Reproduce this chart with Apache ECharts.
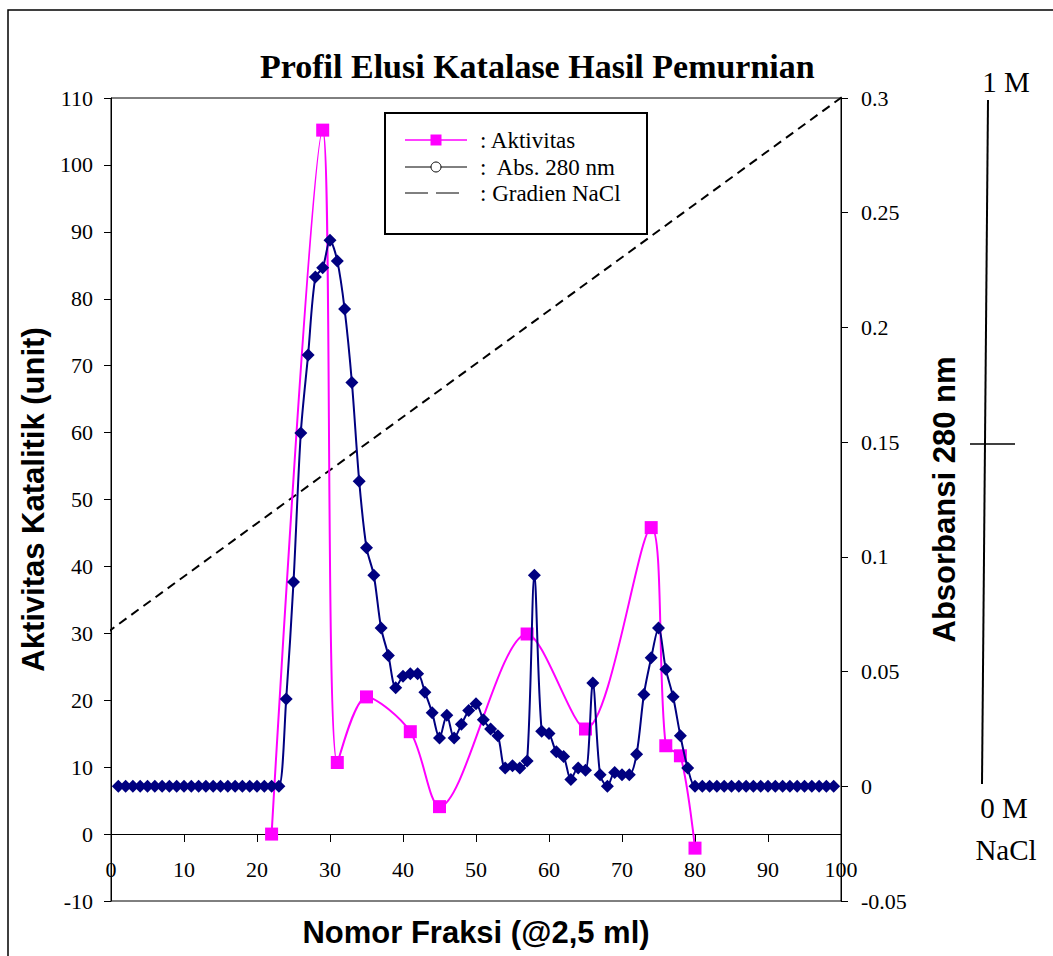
<!DOCTYPE html>
<html>
<head>
<meta charset="utf-8">
<script src="https://cdn.jsdelivr.net/npm/echarts@6/dist/echarts.min.js"></script>
<style>
html,body{margin:0;padding:0;background:#fff;}
#c{width:1053px;height:956px;}
</style>
</head>
<body>
<div id="c"></div>
<script>
// ---- data ----
const chartTitle = 'Profil Elusi Katalase Hasil Pemurnian';
const xTitle = 'Nomor Fraksi (@2,5 ml)';
const yLeftTitle = 'Aktivitas Katalitik (unit)';
const yRightTitle = 'Absorbansi 280 nm';

// Aktivitas (left axis, unit)
const aktFraksi = [22, 29, 31, 35, 41, 45, 57, 65, 74, 76, 78, 80];
const aktivitas = [0, 105.2, 10.7, 20.5, 15.3, 4.1, 29.9, 15.7, 45.8, 13.2, 11.7, -2.1];

// Abs. 280 nm (right axis)
const absFraksi = [
  1, 2, 3, 4, 5, 6, 7, 8, 9, 10, 11, 12, 13, 14, 15, 16, 17, 18, 19, 20,
  21, 22, 23, 24, 25, 26, 27, 28, 29, 30, 31, 32, 33, 34, 35, 36, 37, 38, 39, 40,
  41, 42, 43, 44, 45, 46, 47, 48, 49, 50, 51, 52, 53, 54, 55, 56, 57, 58, 59, 60,
  61, 62, 63, 64, 65, 66, 67, 68, 69, 70, 71, 72, 73, 74, 75, 76, 77, 78, 79, 80,
  81, 82, 83, 84, 85, 86, 87, 88, 89, 90, 91, 92, 93, 94, 95, 96, 97, 98, 99
];
const abs280 = [
  0, 0, 0, 0, 0, 0, 0, 0, 0, 0, 0, 0, 0, 0, 0, 0, 0, 0, 0, 0,
  0, 0, 0, 0.038, 0.089, 0.154, 0.188, 0.222, 0.226, 0.238, 0.229, 0.208, 0.176, 0.133, 0.104, 0.092, 0.069, 0.057, 0.043, 0.048,
  0.049, 0.049, 0.041, 0.032, 0.021, 0.031, 0.021, 0.027, 0.033, 0.036, 0.029, 0.025, 0.022, 0.008, 0.009, 0.008, 0.011, 0.092, 0.024, 0.023,
  0.015, 0.013, 0.003, 0.008, 0.007, 0.045, 0.005, 0.000, 0.006, 0.005, 0.005, 0.014, 0.040, 0.056, 0.069, 0.051, 0.039, 0.022, 0.008, 0,
  0, 0, 0, 0, 0, 0, 0, 0, 0, 0, 0, 0, 0, 0, 0, 0, 0, 0, 0
];

// Gradien NaCl (dashed straight line, left-axis units)
const gradFraksi = [-2.2, 102.6];
const gradNaCl = [28.8, 112.1];

// legend labels
const legendLabels = [': Aktivitas', ':  Abs. 280 nm', ': Gradien NaCl'];
// NaCl scale labels
const naclLabels = ['1 M', '0 M', 'NaCl'];

// axis ranges
const xMin = 0, xMax = 100, xStep = 10;
const yLMin = -10, yLMax = 110, yLStep = 10;
const yRMin = -0.05, yRMax = 0.3, yRStep = 0.05;

const zip = (xs, ys) => xs.map((x, i) => [x, ys[i]]);

const serif = 'Liberation Serif, Times New Roman, serif';
const sans = 'Liberation Sans, Arial, sans-serif';

const chart = echarts.init(document.getElementById('c'), null, {renderer: 'svg'});

const option = {
  animation: false,
  backgroundColor: '#fff',
  title: {
    text: chartTitle,
    left: 255, top: 44,
    textStyle: {fontFamily: serif, fontWeight: 'bold', fontSize: 34, color: '#000'}
  },
  grid: {
    left: 111, right: 212, top: 98, bottom: 55,
    show: true, borderColor: '#000', borderWidth: 1, backgroundColor: 'transparent',
    containLabel: false, outerBoundsMode: 'none'
  },
  xAxis: {
    type: 'value', min: xMin, max: xMax, interval: xStep,
    position: 'bottom', offset: -67,
    axisLine: {show: true, onZero: false, lineStyle: {color: '#000', width: 1}},
    axisTick: {show: true, length: 8, inside: false, lineStyle: {color: '#000', width: 1}},
    axisLabel: {color: '#000', fontFamily: serif, fontSize: 22, margin: 24},
    splitLine: {show: false},
    name: xTitle, nameLocation: 'middle', nameGap: 83,
    nameTextStyle: {fontFamily: sans, fontWeight: 'bold', fontSize: 31, color: '#000'}
  },
  yAxis: [
    {
      type: 'value', position: 'left', min: yLMin, max: yLMax, interval: yLStep,
      axisLine: {show: true, onZero: false, lineStyle: {color: '#000', width: 1}},
      axisTick: {show: true, length: 7, inside: false, lineStyle: {color: '#000', width: 1}},
      axisLabel: {color: '#000', fontFamily: serif, fontSize: 22, margin: 18},
      splitLine: {show: false},
      name: yLeftTitle, nameLocation: 'middle', nameRotate: 90, nameGap: 58,
      nameTextStyle: {fontFamily: sans, fontWeight: 'bold', fontSize: 31, color: '#000'}
    },
    {
      type: 'value', position: 'right', min: yRMin, max: yRMax, interval: yRStep,
      alignTicks: false,
      axisLine: {show: true, onZero: false, lineStyle: {color: '#000', width: 1}},
      axisTick: {show: true, length: 7, inside: false, lineStyle: {color: '#000', width: 1}},
      axisLabel: {color: '#000', fontFamily: serif, fontSize: 22, margin: 20},
      splitLine: {show: false},
      name: yRightTitle, nameLocation: 'middle', nameRotate: 90, nameGap: 88,
      nameTextStyle: {fontFamily: sans, fontWeight: 'bold', fontSize: 31, color: '#000'}
    }
  ],
  series: [
    {
      name: 'Gradien NaCl', type: 'line', yAxisIndex: 0,
      data: zip(gradFraksi, gradNaCl),
      symbol: 'none', clip: false, silent: true, z: 1,
      lineStyle: {color: '#000', width: 2, type: [9, 6]}
    },
    {
      name: 'Aktivitas', type: 'line', yAxisIndex: 0,
      data: zip(aktFraksi, aktivitas),
      smooth: 0.3, symbol: 'rect', symbolSize: 13, z: 2,
      itemStyle: {color: '#FF00FF'},
      lineStyle: {color: '#FF00FF', width: 2}
    },
    {
      name: 'Abs. 280 nm', type: 'line', yAxisIndex: 1,
      data: zip(absFraksi, abs280),
      smooth: 0.3, symbol: 'diamond', symbolSize: 13, z: 3,
      itemStyle: {color: '#000080'},
      lineStyle: {color: '#000080', width: 2}
    }
  ],
  graphic: [
    // outer frame of the chart area
    {type: 'rect', z: 0, silent: true, shape: {x: 8, y: 10, width: 1100, height: 1000},
     style: {fill: 'none', stroke: '#000', lineWidth: 1.5}},
    // legend box
    {type: 'rect', z: 50, shape: {x: 385, y: 113, width: 262, height: 121},
     style: {fill: '#fff', stroke: '#000', lineWidth: 2}},
    {type: 'line', z: 51, shape: {x1: 405, y1: 140, x2: 467, y2: 140}, style: {stroke: '#FF00FF', lineWidth: 1.5}},
    {type: 'rect', z: 52, shape: {x: 430.5, y: 134.5, width: 11, height: 11}, style: {fill: '#FF00FF'}},
    {type: 'line', z: 51, shape: {x1: 405, y1: 167, x2: 467, y2: 167}, style: {stroke: '#000', lineWidth: 1}},
    {type: 'circle', z: 52, shape: {cx: 436, cy: 167, r: 5}, style: {fill: '#fff', stroke: '#000', lineWidth: 1}},
    {type: 'line', z: 51, shape: {x1: 405, y1: 193, x2: 428, y2: 193}, style: {stroke: '#000', lineWidth: 1}},
    {type: 'line', z: 51, shape: {x1: 436, y1: 193, x2: 459, y2: 193}, style: {stroke: '#000', lineWidth: 1}},
    {type: 'text', z: 52, x: 480, y: 140, style: {text: legendLabels[0], fontFamily: serif, fontSize: 23, fill: '#000', align: 'left', verticalAlign: 'middle'}},
    {type: 'text', z: 52, x: 480, y: 167, style: {text: legendLabels[1], fontFamily: serif, fontSize: 23, fill: '#000', align: 'left', verticalAlign: 'middle'}},
    {type: 'text', z: 52, x: 480, y: 193, style: {text: legendLabels[2], fontFamily: serif, fontSize: 23, fill: '#000', align: 'left', verticalAlign: 'middle'}},
    // NaCl scale on the right
    {type: 'line', z: 5, shape: {x1: 988, y1: 100, x2: 982, y2: 784}, style: {stroke: '#000', lineWidth: 2}},
    {type: 'line', z: 5, shape: {x1: 970, y1: 444, x2: 1015, y2: 444}, style: {stroke: '#000', lineWidth: 1.5}},
    {type: 'text', z: 5, x: 1006, y: 82, style: {text: naclLabels[0], fontFamily: serif, fontSize: 29, fill: '#000', align: 'center', verticalAlign: 'middle'}},
    {type: 'text', z: 5, x: 1004, y: 808, style: {text: naclLabels[1], fontFamily: serif, fontSize: 29, fill: '#000', align: 'center', verticalAlign: 'middle'}},
    {type: 'text', z: 5, x: 1006, y: 850, style: {text: naclLabels[2], fontFamily: serif, fontSize: 29, fill: '#000', align: 'center', verticalAlign: 'middle'}}
  ]
};

chart.setOption(option);
</script>
</body>
</html>
